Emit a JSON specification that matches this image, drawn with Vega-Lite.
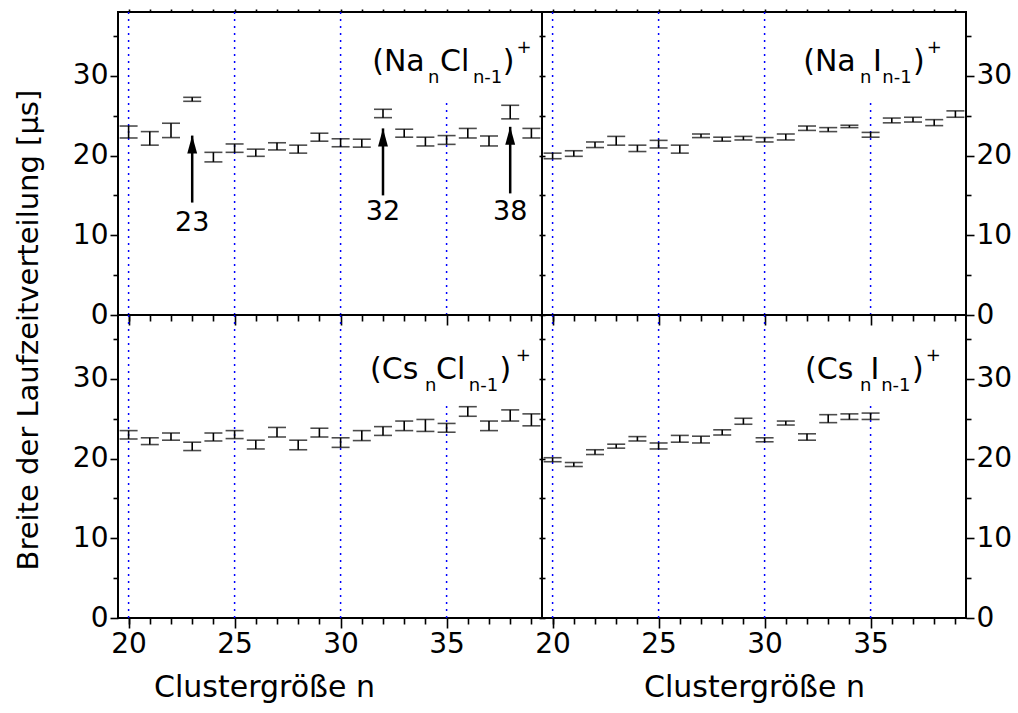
{
"$schema":"https://vega.github.io/schema/vega-lite/v6.json",
"padding":{"left":15,"top":7,"right":0,"bottom":0},
"title":{"text":"Breite der Laufzeitverteilung [µs]","orient":"left","anchor":"middle","fontSize":29,"font":"DejaVu Sans","fontWeight":"normal","color":"black","offset":27,"dx":25},
"config":{"view":{"stroke":"black","strokeWidth":2},"font":"DejaVu Sans",
"axis":{"labelFont":"DejaVu Sans","labelFontSize":28,"labelColor":"black","tickColor":"black","tickWidth":1.6,"domain":false,"grid":false,"labelOverlap":false,"titleFont":"DejaVu Sans","titleFontSize":30,"titleFontWeight":"normal","titleColor":"black"},
"text":{"font":"DejaVu Sans","color":"black"}},
"datasets":{
"grid":[{"n":20,"bot":0,"top":38},{"n":25,"bot":0,"top":38},{"n":30,"bot":0,"top":38},{"n":35,"bot":0,"top":27.2}],
"eb":[
{"p":"NaCl","n":20,"lo":22.2,"hi":23.7},{"p":"NaCl","n":21,"lo":21.3,"hi":23.0},{"p":"NaCl","n":22,"lo":22.25,"hi":24.05},{"p":"NaCl","n":23,"lo":26.8,"hi":27.3},{"p":"NaCl","n":24,"lo":19.2,"hi":20.4},{"p":"NaCl","n":25,"lo":20.4,"hi":21.45},{"p":"NaCl","n":26,"lo":19.9,"hi":20.8},{"p":"NaCl","n":27,"lo":20.7,"hi":21.6},{"p":"NaCl","n":28,"lo":20.3,"hi":21.3},{"p":"NaCl","n":29,"lo":21.8,"hi":22.8},{"p":"NaCl","n":30,"lo":21.1,"hi":22.1},{"p":"NaCl","n":31,"lo":21.05,"hi":22.05},{"p":"NaCl","n":32,"lo":24.75,"hi":25.8},{"p":"NaCl","n":33,"lo":22.3,"hi":23.3},{"p":"NaCl","n":34,"lo":21.2,"hi":22.3},{"p":"NaCl","n":35,"lo":21.4,"hi":22.5},{"p":"NaCl","n":36,"lo":22.2,"hi":23.4},{"p":"NaCl","n":37,"lo":21.2,"hi":22.45},{"p":"NaCl","n":38,"lo":24.6,"hi":26.3},{"p":"NaCl","n":39,"lo":22.2,"hi":23.4},
{"p":"NaI","n":20,"lo":19.6,"hi":20.3},{"p":"NaI","n":21,"lo":19.9,"hi":20.6},{"p":"NaI","n":22,"lo":21.0,"hi":21.7},{"p":"NaI","n":23,"lo":21.3,"hi":22.4},{"p":"NaI","n":24,"lo":20.5,"hi":21.3},{"p":"NaI","n":25,"lo":20.95,"hi":21.9},{"p":"NaI","n":26,"lo":20.3,"hi":21.3},{"p":"NaI","n":27,"lo":22.25,"hi":22.7},{"p":"NaI","n":28,"lo":21.8,"hi":22.3},{"p":"NaI","n":29,"lo":21.95,"hi":22.4},{"p":"NaI","n":30,"lo":21.7,"hi":22.25},{"p":"NaI","n":31,"lo":21.95,"hi":22.7},{"p":"NaI","n":32,"lo":23.15,"hi":23.7},{"p":"NaI","n":33,"lo":23.0,"hi":23.5},{"p":"NaI","n":34,"lo":23.5,"hi":23.8},{"p":"NaI","n":35,"lo":22.3,"hi":22.9},{"p":"NaI","n":36,"lo":24.1,"hi":24.7},{"p":"NaI","n":37,"lo":24.2,"hi":24.8},{"p":"NaI","n":38,"lo":23.75,"hi":24.5},{"p":"NaI","n":39,"lo":24.8,"hi":25.6},
{"p":"CsCl","n":20,"lo":22.45,"hi":23.5},{"p":"CsCl","n":21,"lo":21.75,"hi":22.6},{"p":"CsCl","n":22,"lo":22.3,"hi":23.2},{"p":"CsCl","n":23,"lo":21.0,"hi":22.05},{"p":"CsCl","n":24,"lo":22.2,"hi":23.2},{"p":"CsCl","n":25,"lo":22.5,"hi":23.5},{"p":"CsCl","n":26,"lo":21.2,"hi":22.3},{"p":"CsCl","n":27,"lo":22.7,"hi":23.9},{"p":"CsCl","n":28,"lo":21.1,"hi":22.3},{"p":"CsCl","n":29,"lo":22.7,"hi":23.8},{"p":"CsCl","n":30,"lo":21.4,"hi":22.6},{"p":"CsCl","n":31,"lo":22.25,"hi":23.5},{"p":"CsCl","n":32,"lo":22.9,"hi":24.0},{"p":"CsCl","n":33,"lo":23.5,"hi":24.7},{"p":"CsCl","n":34,"lo":23.4,"hi":24.9},{"p":"CsCl","n":35,"lo":23.3,"hi":24.4},{"p":"CsCl","n":36,"lo":25.3,"hi":26.5},{"p":"CsCl","n":37,"lo":23.5,"hi":24.7},{"p":"CsCl","n":38,"lo":24.7,"hi":26.1},{"p":"CsCl","n":39,"lo":24.1,"hi":25.6},
{"p":"CsI","n":20,"lo":19.6,"hi":20.1},{"p":"CsI","n":21,"lo":19.0,"hi":19.5},{"p":"CsI","n":22,"lo":20.5,"hi":21.1},{"p":"CsI","n":23,"lo":21.3,"hi":21.8},{"p":"CsI","n":24,"lo":22.2,"hi":22.75},{"p":"CsI","n":25,"lo":21.2,"hi":21.95},{"p":"CsI","n":26,"lo":22.05,"hi":22.9},{"p":"CsI","n":27,"lo":21.95,"hi":22.8},{"p":"CsI","n":28,"lo":22.95,"hi":23.6},{"p":"CsI","n":29,"lo":24.3,"hi":25.05},{"p":"CsI","n":30,"lo":22.1,"hi":22.6},{"p":"CsI","n":31,"lo":24.2,"hi":24.7},{"p":"CsI","n":32,"lo":22.3,"hi":23.1},{"p":"CsI","n":33,"lo":24.5,"hi":25.5},{"p":"CsI","n":34,"lo":24.9,"hi":25.6},{"p":"CsI","n":35,"lo":24.9,"hi":25.7}
],
"lab":[
{"p":"NaCl","t":"(Na","k":"main","x":31.49,"y":30.6},{"p":"NaCl","t":"n","k":"sub","x":34.12,"y":30.6},{"p":"NaCl","t":"Cl","k":"main","x":34.69,"y":30.6},{"p":"NaCl","t":"n-1","k":"sub","x":36.24,"y":30.6},{"p":"NaCl","t":")","k":"main","x":37.65,"y":30.6},{"p":"NaCl","t":"+","k":"sup","x":38.3,"y":30.6},
{"p":"NaI","t":"(Na","k":"main","x":31.82,"y":30.6},{"p":"NaI","t":"n","k":"sub","x":34.5,"y":30.6},{"p":"NaI","t":"I","k":"main","x":35.11,"y":30.6},{"p":"NaI","t":"n-1","k":"sub","x":35.55,"y":30.6},{"p":"NaI","t":")","k":"main","x":37.0,"y":30.6},{"p":"NaI","t":"+","k":"sup","x":37.65,"y":30.6},
{"p":"CsCl","t":"(Cs","k":"main","x":31.39,"y":30},{"p":"CsCl","t":"n","k":"sub","x":33.98,"y":30},{"p":"CsCl","t":"Cl","k":"main","x":34.5,"y":30},{"p":"CsCl","t":"n-1","k":"sub","x":36.05,"y":30},{"p":"CsCl","t":")","k":"main","x":37.5,"y":30},{"p":"CsCl","t":"+","k":"sup","x":38.26,"y":30},
{"p":"CsI","t":"(Cs","k":"main","x":31.91,"y":30},{"p":"CsI","t":"n","k":"sub","x":34.5,"y":30},{"p":"CsI","t":"I","k":"main","x":35.0,"y":30},{"p":"CsI","t":"n-1","k":"sub","x":35.5,"y":30},{"p":"CsI","t":")","k":"main","x":36.95,"y":30},{"p":"CsI","t":"+","k":"sup","x":37.6,"y":30}
],
"arr":[{"n":23,"tip":22.5,"base":14.1,"ly":11.5,"t":"23"},{"n":32,"tip":23.4,"base":15.0,"ly":12.9,"t":"32"},{"n":38,"tip":23.6,"base":15.25,"ly":12.9,"t":"38"}]
},
"concat":[
{"width":424,"height":303,"resolve":{"axis":{"x":"independent","y":"independent"}},"layer":[
{"layer":[
{"data":{"name":"grid"},"mark":{"type":"rule","color":"#0000ff","strokeDash":[2,5],"strokeWidth":1.5},"encoding":{
"x":{"field":"n","type":"quantitative","scale":{"domain":[19.5,39.5],"nice":false,"zero":false},"axis":{"orient":"bottom","title":null,"values":[20,25,30,35],"labels":false,"tickSize":10}},
"y":{"field":"bot","type":"quantitative","scale":{"domain":[0,38],"nice":false},"axis":{"orient":"left","title":null,"values":[0,10,20,30],"labelPadding":2,"tickSize":8}},
"y2":{"field":"top"}}},
{"data":{"name":"eb"},"transform":[{"filter":"datum.p === 'NaCl'"}],"mark":{"type":"rule","color":"black","strokeWidth":1.6},"encoding":{"x":{"field":"n","type":"quantitative"},"y":{"field":"lo","type":"quantitative"},"y2":{"field":"hi"}}},
{"data":{"name":"eb"},"transform":[{"filter":"datum.p === 'NaCl'"}],"mark":{"type":"tick","orient":"horizontal","color":"black","size":18,"thickness":1.6},"encoding":{"x":{"field":"n","type":"quantitative"},"y":{"field":"lo","type":"quantitative"}}},
{"data":{"name":"eb"},"transform":[{"filter":"datum.p === 'NaCl'"}],"mark":{"type":"tick","orient":"horizontal","color":"black","size":18,"thickness":1.6},"encoding":{"x":{"field":"n","type":"quantitative"},"y":{"field":"hi","type":"quantitative"}}},
{"data":{"name":"lab"},"transform":[{"filter":"datum.p === 'NaCl' && datum.k === 'main'"}],"mark":{"type":"text","fontSize":30,"align":"left","baseline":"alphabetic"},"encoding":{"x":{"field":"x","type":"quantitative"},"y":{"field":"y","type":"quantitative"},"text":{"field":"t"}}},
{"data":{"name":"lab"},"transform":[{"filter":"datum.p === 'NaCl' && datum.k === 'sub'"}],"mark":{"type":"text","fontSize":18,"align":"left","baseline":"alphabetic","dy":12},"encoding":{"x":{"field":"x","type":"quantitative"},"y":{"field":"y","type":"quantitative"},"text":{"field":"t"}}},
{"data":{"name":"lab"},"transform":[{"filter":"datum.p === 'NaCl' && datum.k === 'sup'"}],"mark":{"type":"text","fontSize":18,"align":"left","baseline":"alphabetic","dy":-18},"encoding":{"x":{"field":"x","type":"quantitative"},"y":{"field":"y","type":"quantitative"},"text":{"field":"t"}}},
{"data":{"name":"arr"},"mark":{"type":"rule","color":"black","strokeWidth":2.5},"encoding":{"x":{"field":"n","type":"quantitative"},"y":{"field":"base","type":"quantitative"},"y2":{"field":"tip"}}},
{"data":{"name":"arr"},"mark":{"type":"point","shape":"M0,0L0.55,2L-0.55,2Z","filled":true,"size":324,"color":"black","opacity":1},"encoding":{"x":{"field":"n","type":"quantitative"},"y":{"field":"tip","type":"quantitative"}}},
{"data":{"name":"arr"},"mark":{"type":"text","fontSize":27,"align":"center","baseline":"middle"},"encoding":{"x":{"field":"n","type":"quantitative"},"y":{"field":"ly","type":"quantitative"},"text":{"field":"t"}}}
]},
{"data":{"name":"grid"},"mark":{"type":"point","opacity":0},"encoding":{"x":{"field":"n","type":"quantitative","axis":{"orient":"bottom","title":null,"values":[20,21,22,23,24,26,27,28,29,31,32,33,34,36,37,38,39],"labels":false,"tickSize":6}},"y":{"field":"bot","type":"quantitative","axis":{"orient":"left","title":null,"values":[5,15,25,35],"labels":false,"tickSize":5}}}},
{"data":{"name":"grid"},"mark":{"type":"point","opacity":0},"encoding":{"x":{"field":"n","type":"quantitative","axis":{"orient":"top","title":null,"values":[20,21,22,23,24,25,26,27,28,29,30,31,32,33,34,35,36,37,38,39],"labels":false,"tickSize":3}},"y":{"field":"bot","type":"quantitative","axis":{"orient":"right","title":null,"values":[0,5,10,15,20,25,30,35],"labels":false,"tickSize":3}}}}
]},
{"width":424,"height":303,"resolve":{"axis":{"x":"independent","y":"independent"}},"layer":[
{"layer":[
{"data":{"name":"grid"},"mark":{"type":"rule","color":"#0000ff","strokeDash":[2,5],"strokeWidth":1.5},"encoding":{
"x":{"field":"n","type":"quantitative","scale":{"domain":[19.5,39.5],"nice":false,"zero":false},"axis":{"orient":"bottom","title":null,"values":[20,25,30,35],"labels":false,"tickSize":10}},
"y":{"field":"bot","type":"quantitative","scale":{"domain":[0,38],"nice":false},"axis":{"orient":"right","title":null,"values":[0,10,20,30],"labelPadding":2,"tickSize":8}},
"y2":{"field":"top"}}},
{"data":{"name":"eb"},"transform":[{"filter":"datum.p === 'NaI'"}],"mark":{"type":"rule","color":"black","strokeWidth":1.6},"encoding":{"x":{"field":"n","type":"quantitative"},"y":{"field":"lo","type":"quantitative"},"y2":{"field":"hi"}}},
{"data":{"name":"eb"},"transform":[{"filter":"datum.p === 'NaI'"}],"mark":{"type":"tick","orient":"horizontal","color":"black","size":18,"thickness":1.6},"encoding":{"x":{"field":"n","type":"quantitative"},"y":{"field":"lo","type":"quantitative"}}},
{"data":{"name":"eb"},"transform":[{"filter":"datum.p === 'NaI'"}],"mark":{"type":"tick","orient":"horizontal","color":"black","size":18,"thickness":1.6},"encoding":{"x":{"field":"n","type":"quantitative"},"y":{"field":"hi","type":"quantitative"}}},
{"data":{"name":"lab"},"transform":[{"filter":"datum.p === 'NaI' && datum.k === 'main'"}],"mark":{"type":"text","fontSize":30,"align":"left","baseline":"alphabetic"},"encoding":{"x":{"field":"x","type":"quantitative"},"y":{"field":"y","type":"quantitative"},"text":{"field":"t"}}},
{"data":{"name":"lab"},"transform":[{"filter":"datum.p === 'NaI' && datum.k === 'sub'"}],"mark":{"type":"text","fontSize":18,"align":"left","baseline":"alphabetic","dy":12},"encoding":{"x":{"field":"x","type":"quantitative"},"y":{"field":"y","type":"quantitative"},"text":{"field":"t"}}},
{"data":{"name":"lab"},"transform":[{"filter":"datum.p === 'NaI' && datum.k === 'sup'"}],"mark":{"type":"text","fontSize":18,"align":"left","baseline":"alphabetic","dy":-18},"encoding":{"x":{"field":"x","type":"quantitative"},"y":{"field":"y","type":"quantitative"},"text":{"field":"t"}}}
]},
{"data":{"name":"grid"},"mark":{"type":"point","opacity":0},"encoding":{"x":{"field":"n","type":"quantitative","axis":{"orient":"bottom","title":null,"values":[20,21,22,23,24,26,27,28,29,31,32,33,34,36,37,38,39],"labels":false,"tickSize":6}},"y":{"field":"bot","type":"quantitative","axis":{"orient":"right","title":null,"values":[5,15,25,35],"labels":false,"tickSize":5}}}},
{"data":{"name":"grid"},"mark":{"type":"point","opacity":0},"encoding":{"x":{"field":"n","type":"quantitative","axis":{"orient":"top","title":null,"values":[20,21,22,23,24,25,26,27,28,29,30,31,32,33,34,35,36,37,38,39],"labels":false,"tickSize":3}},"y":{"field":"bot","type":"quantitative","axis":{"orient":"left","title":null,"values":[0,5,10,15,20,25,30,35],"labels":false,"tickSize":3}}}}
]},
{"width":424,"height":303,"resolve":{"axis":{"x":"independent","y":"independent"}},"layer":[
{"layer":[
{"data":{"name":"grid"},"mark":{"type":"rule","color":"#0000ff","strokeDash":[2,5],"strokeWidth":1.5},"encoding":{
"x":{"field":"n","type":"quantitative","scale":{"domain":[19.5,39.5],"nice":false,"zero":false},"axis":{"orient":"bottom","title":"Clustergröße n","titlePadding":14,"titleX":146,"values":[20,25,30,35],"labelPadding":2,"tickSize":10}},
"y":{"field":"bot","type":"quantitative","scale":{"domain":[0,38],"nice":false},"axis":{"orient":"left","title":null,"values":[0,10,20,30],"labelPadding":2,"tickSize":8}},
"y2":{"field":"top"}}},
{"data":{"name":"eb"},"transform":[{"filter":"datum.p === 'CsCl'"}],"mark":{"type":"rule","color":"black","strokeWidth":1.6},"encoding":{"x":{"field":"n","type":"quantitative"},"y":{"field":"lo","type":"quantitative"},"y2":{"field":"hi"}}},
{"data":{"name":"eb"},"transform":[{"filter":"datum.p === 'CsCl'"}],"mark":{"type":"tick","orient":"horizontal","color":"black","size":18,"thickness":1.6},"encoding":{"x":{"field":"n","type":"quantitative"},"y":{"field":"lo","type":"quantitative"}}},
{"data":{"name":"eb"},"transform":[{"filter":"datum.p === 'CsCl'"}],"mark":{"type":"tick","orient":"horizontal","color":"black","size":18,"thickness":1.6},"encoding":{"x":{"field":"n","type":"quantitative"},"y":{"field":"hi","type":"quantitative"}}},
{"data":{"name":"lab"},"transform":[{"filter":"datum.p === 'CsCl' && datum.k === 'main'"}],"mark":{"type":"text","fontSize":30,"align":"left","baseline":"alphabetic"},"encoding":{"x":{"field":"x","type":"quantitative"},"y":{"field":"y","type":"quantitative"},"text":{"field":"t"}}},
{"data":{"name":"lab"},"transform":[{"filter":"datum.p === 'CsCl' && datum.k === 'sub'"}],"mark":{"type":"text","fontSize":18,"align":"left","baseline":"alphabetic","dy":12},"encoding":{"x":{"field":"x","type":"quantitative"},"y":{"field":"y","type":"quantitative"},"text":{"field":"t"}}},
{"data":{"name":"lab"},"transform":[{"filter":"datum.p === 'CsCl' && datum.k === 'sup'"}],"mark":{"type":"text","fontSize":18,"align":"left","baseline":"alphabetic","dy":-18},"encoding":{"x":{"field":"x","type":"quantitative"},"y":{"field":"y","type":"quantitative"},"text":{"field":"t"}}}
]},
{"data":{"name":"grid"},"mark":{"type":"point","opacity":0},"encoding":{"x":{"field":"n","type":"quantitative","axis":{"orient":"bottom","title":null,"values":[20,21,22,23,24,26,27,28,29,31,32,33,34,36,37,38,39],"labels":false,"tickSize":6}},"y":{"field":"bot","type":"quantitative","axis":{"orient":"left","title":null,"values":[5,15,25,35],"labels":false,"tickSize":5}}}},
{"data":{"name":"grid"},"mark":{"type":"point","opacity":0},"encoding":{"x":{"field":"n","type":"quantitative","axis":{"orient":"top","title":null,"values":[20,21,22,23,24,25,26,27,28,29,30,31,32,33,34,35,36,37,38,39],"labels":false,"tickSize":0}},"y":{"field":"bot","type":"quantitative","axis":{"orient":"right","title":null,"values":[0,5,10,15,20,25,30,35],"labels":false,"tickSize":3}}}}
]},
{"width":424,"height":303,"resolve":{"axis":{"x":"independent","y":"independent"}},"layer":[
{"layer":[
{"data":{"name":"grid"},"mark":{"type":"rule","color":"#0000ff","strokeDash":[2,5],"strokeWidth":1.5},"encoding":{
"x":{"field":"n","type":"quantitative","scale":{"domain":[19.5,39.5],"nice":false,"zero":false},"axis":{"orient":"bottom","title":"Clustergröße n","titlePadding":14,"values":[20,25,30,35],"labelPadding":2,"tickSize":10}},
"y":{"field":"bot","type":"quantitative","scale":{"domain":[0,38],"nice":false},"axis":{"orient":"right","title":null,"values":[0,10,20,30],"labelPadding":2,"tickSize":8}},
"y2":{"field":"top"}}},
{"data":{"name":"eb"},"transform":[{"filter":"datum.p === 'CsI'"}],"mark":{"type":"rule","color":"black","strokeWidth":1.6},"encoding":{"x":{"field":"n","type":"quantitative"},"y":{"field":"lo","type":"quantitative"},"y2":{"field":"hi"}}},
{"data":{"name":"eb"},"transform":[{"filter":"datum.p === 'CsI'"}],"mark":{"type":"tick","orient":"horizontal","color":"black","size":18,"thickness":1.6},"encoding":{"x":{"field":"n","type":"quantitative"},"y":{"field":"lo","type":"quantitative"}}},
{"data":{"name":"eb"},"transform":[{"filter":"datum.p === 'CsI'"}],"mark":{"type":"tick","orient":"horizontal","color":"black","size":18,"thickness":1.6},"encoding":{"x":{"field":"n","type":"quantitative"},"y":{"field":"hi","type":"quantitative"}}},
{"data":{"name":"lab"},"transform":[{"filter":"datum.p === 'CsI' && datum.k === 'main'"}],"mark":{"type":"text","fontSize":30,"align":"left","baseline":"alphabetic"},"encoding":{"x":{"field":"x","type":"quantitative"},"y":{"field":"y","type":"quantitative"},"text":{"field":"t"}}},
{"data":{"name":"lab"},"transform":[{"filter":"datum.p === 'CsI' && datum.k === 'sub'"}],"mark":{"type":"text","fontSize":18,"align":"left","baseline":"alphabetic","dy":12},"encoding":{"x":{"field":"x","type":"quantitative"},"y":{"field":"y","type":"quantitative"},"text":{"field":"t"}}},
{"data":{"name":"lab"},"transform":[{"filter":"datum.p === 'CsI' && datum.k === 'sup'"}],"mark":{"type":"text","fontSize":18,"align":"left","baseline":"alphabetic","dy":-18},"encoding":{"x":{"field":"x","type":"quantitative"},"y":{"field":"y","type":"quantitative"},"text":{"field":"t"}}}
]},
{"data":{"name":"grid"},"mark":{"type":"point","opacity":0},"encoding":{"x":{"field":"n","type":"quantitative","axis":{"orient":"bottom","title":null,"values":[20,21,22,23,24,26,27,28,29,31,32,33,34,36,37,38,39],"labels":false,"tickSize":6}},"y":{"field":"bot","type":"quantitative","axis":{"orient":"right","title":null,"values":[5,15,25,35],"labels":false,"tickSize":5}}}},
{"data":{"name":"grid"},"mark":{"type":"point","opacity":0},"encoding":{"x":{"field":"n","type":"quantitative","axis":{"orient":"top","title":null,"values":[20,21,22,23,24,25,26,27,28,29,30,31,32,33,34,35,36,37,38,39],"labels":false,"tickSize":0}},"y":{"field":"bot","type":"quantitative","axis":{"orient":"left","title":null,"values":[0,5,10,15,20,25,30,35],"labels":false,"tickSize":3}}}}
]}
],
"columns":2,"spacing":0,"bounds":"flush"
}
